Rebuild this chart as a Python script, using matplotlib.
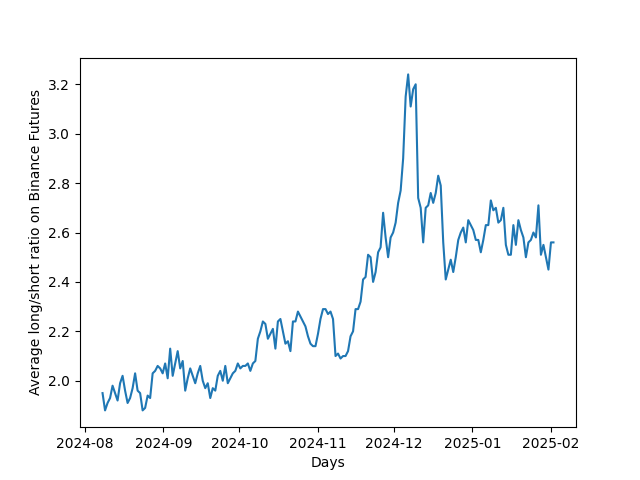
import matplotlib
matplotlib.use("Agg")
import matplotlib.pyplot as plt
import pandas as pd

start_date = "2024-08-08"
end_date = "2025-02-02"
ratio = [1.95,1.88,1.91,1.93,1.98,1.95,1.92,1.99,2.02,1.96,1.91,1.93,1.97,2.03,1.96,1.95,1.88,1.89,1.94,1.93,2.03,2.04,2.06,2.05,
 2.03,2.07,2.01,2.13,2.02,2.07,2.12,2.05,2.08,1.96,2.01,2.05,2.02,1.99,2.03,2.06,2.00,1.97,1.99,1.93,1.97,1.96,2.02,2.04,2.00,2.06,1.99,2.01,2.03,2.04,
 2.07,2.05,2.06,2.06,2.07,2.04,2.07,2.08,2.17,2.20,2.24,2.23,2.17,2.19,2.21,2.13,2.24,2.25,2.20,2.15,2.16,2.12,2.24,2.24,2.28,2.26,2.24,2.22,2.18,2.15,2.14,
 2.14,2.19,2.25,2.29,2.29,2.27,2.28,2.25,2.10,2.11,2.09,2.10,2.10,2.12,2.18,2.20,2.29,2.29,2.32,2.41,2.42,2.51,2.50,2.40,2.44,2.52,2.54,2.68,2.58,2.50,
 2.58,2.60,2.64,2.72,2.77,2.90,3.15,3.24,3.11,3.18,3.20,2.74,2.70,2.56,2.70,2.71,2.76,2.72,2.76,2.83,2.79,2.56,2.41,2.45,2.49,2.44,2.50,2.57,2.60,2.62,2.56,
 2.65,2.63,2.61,2.57,2.57,2.52,2.57,2.63,2.63,2.73,2.69,2.70,2.64,2.65,2.70,2.55,2.51,2.51,2.63,2.55,2.65,2.61,2.58,2.50,2.56,2.57,2.60,2.58,2.71,2.51,2.55,
 2.50,2.45,2.56,2.56]

dates = pd.date_range(start_date, end_date, periods=len(ratio))

fig, ax = plt.subplots(figsize=(6.4, 4.8), dpi=100)
ax.plot(dates, ratio, color="#1f77b4")
ax.set_xlabel("Days")
ax.set_ylabel("Average long/short ratio on Binance Futures")
fig.savefig("out.png")
